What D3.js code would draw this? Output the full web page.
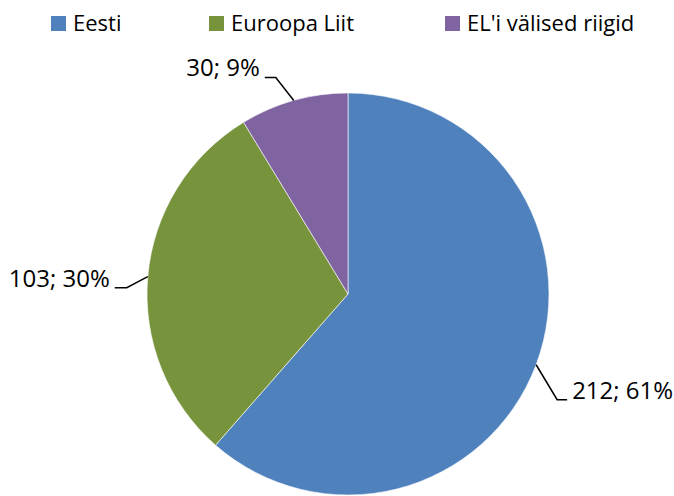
<!DOCTYPE html>
<html>
<head>
<meta charset="utf-8">
<script src="https://cdn.jsdelivr.net/npm/d3@7"></script>
<style>
  body { margin: 0; background: #fff; }
  svg { display: block; }
</style>
</head>
<body>
<script>
// chart size
var w = 674;
var h = 496;

// data
var categories = ["Eesti", "Euroopa Liit", "EL'i välised riigid"];
var values = [212, 103, 30];
var percents = ["61%", "30%", "9%"];
var colors = ["#4F81BD", "#77933C", "#8064A2"];

var font = "Open Sans, sans-serif";

var svg = d3.select("body")
  .append("svg")
  .attr("width", w)
  .attr("height", h);

// legend
var legendX = [51, 209, 445];
var legend = svg.selectAll("g.legend")
  .data(categories)
  .enter()
  .append("g")
  .attr("class", "legend")
  .attr("transform", function(d, i) { return "translate(" + legendX[i] + ",16)"; });

legend.append("rect")
  .attr("width", 15)
  .attr("height", 15)
  .attr("fill", function(d, i) { return colors[i]; });

legend.append("text")
  .attr("x", 22)
  .attr("y", 15)
  .attr("font-family", font)
  .attr("font-size", "22px")
  .attr("fill", "#000")
  .text(function(d) { return d; });

// pie
var cx = 348, cy = 294, r = 201;

var pie = d3.pie().sort(null).value(function(d) { return d; });
var arcs = pie(values);

var arc = d3.arc().innerRadius(0).outerRadius(r);

var g = svg.append("g").attr("transform", "translate(" + cx + "," + cy + ")");

g.selectAll("path")
  .data(arcs)
  .enter()
  .append("path")
  .attr("d", arc)
  .attr("fill", function(d, i) { return colors[i]; })
  .attr("stroke", "rgba(255,255,255,0.6)")
  .attr("stroke-width", 1);

// data labels with leader lines
// leader layout: elbow offset from the slice edge, then a short horizontal tick
var elbowDx = [21, -21, -18];
var elbowDy = [35, 11, -23];
var tick = [10, -12, -11];

arcs.forEach(function(d, i) {
  var mid = (d.startAngle + d.endAngle) / 2;
  var p0 = [r * Math.sin(mid), -r * Math.cos(mid)];
  var p1 = [p0[0] + elbowDx[i], p0[1] + elbowDy[i]];
  var p2 = [p1[0] + tick[i], p1[1]];
  var dir = tick[i] > 0 ? 1 : -1;

  g.append("polyline")
    .attr("points", [p0, p1, p2].map(function(p) { return p.join(","); }).join(" "))
    .attr("fill", "none")
    .attr("stroke", "#000")
    .attr("stroke-width", 1.5);

  g.append("text")
    .attr("x", p2[0] + dir * 5)
    .attr("y", p2[1] - 1)
    .attr("text-anchor", dir > 0 ? "start" : "end")
    .attr("font-family", font)
    .attr("font-size", "24px")
    .attr("fill", "#000")
    .text(values[i] + "; " + percents[i]);
});
</script>
</body>
</html>
